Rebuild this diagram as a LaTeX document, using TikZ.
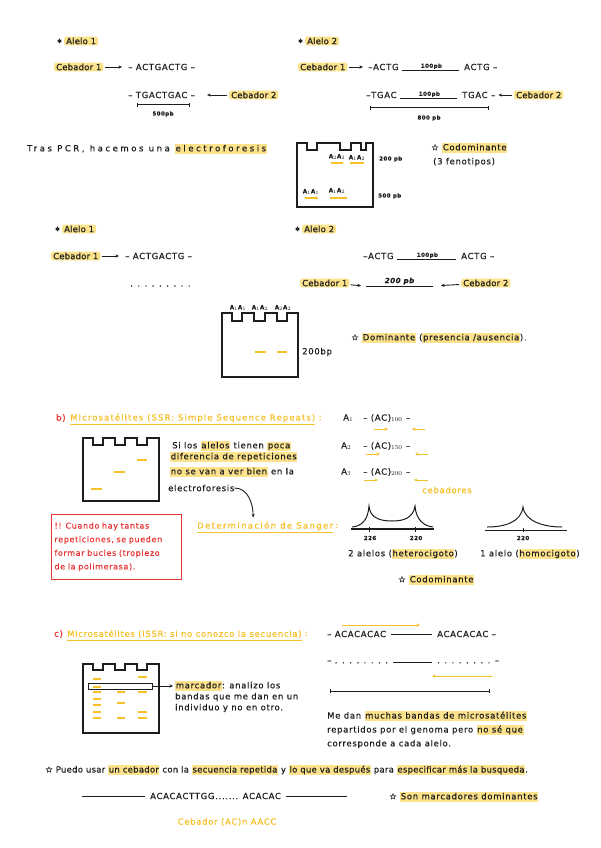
\documentclass[tikz,border=0pt]{standalone}
\usepackage{fontspec}
\setmainfont{DejaVu Sans}[LetterSpace=8, FakeBold=0.4]
\usetikzlibrary{arrows.meta}
\definecolor{ink}{RGB}{30,30,30}
\definecolor{marker}{RGB}{253,226,140}
\definecolor{yink}{RGB}{246,192,40}
\definecolor{rink}{RGB}{232,52,52}
\newcommand\notesize{\fontsize{8.5}{10}\selectfont}
\newcommand\tinysize{\fontsize{5.5}{6}\selectfont}
\newcommand\spaced[1]{\addfontfeatures{LetterSpace=#1}}
\newcommand\hlite[1]{{\setlength{\fboxsep}{0.6pt}\colorbox{marker}{\rule[-1.8pt]{0pt}{8pt}#1}}}

\begin{document}
\begin{tikzpicture}[x=1pt, y=-1pt, font=\notesize, ink,
  txt/.style={anchor=west, inner sep=0pt},
  lbl/.style={inner sep=0pt, font=\tinysize\bfseries},
  hl/.style={anchor=west, fill=marker, rounded corners=2pt, inner xsep=2pt, inner ysep=1pt,
    font=\notesize\spaced{2}},
  arr/.style={-{Stealth[length=3.5pt, width=3.2pt]}, line width=0.9pt},
  yarr/.style={arr, yink},
  gel/.style={draw=ink, line width=1.3pt},
  band/.style={yink, line width=1.2pt},
  bar/.style={{Bar[width=4pt]}-{Bar[width=4pt]}, line width=1pt},
  rule/.style={line width=1pt},
  ]
\fill[white] (0,0) rectangle (600,848);
\useasboundingbox (0,0) rectangle (600,848);

% PCR, alelo 1
\node[txt] (st1) at (57,41) {\tinysize ✱};
\node[hl] (al1) at (64,41) {Alelo 1};
\node[hl] (ceb1a) at (54,67) {Cebador 1};
\node[txt] (seq1a) at (128,67) {– ACTGACTG –};
\draw[arr, shorten <=1pt, shorten >=6pt] (ceb1a) -- (seq1a);
\node[txt] (seq1b) at (128,95) {– TGACTGAC –};
\node[hl] (ceb2a) at (229,95) {Cebador 2};
\draw[arr, shorten <=2pt, shorten >=12pt] (ceb2a) -- (seq1b);
\coordinate (b1l) at (137,105);
\coordinate (b1r) at (190,105);
\draw[bar] (b1l) -- (b1r);
\node[lbl] (pb500) at (163,114) {500pb};

% PCR, alelo 2
\node[txt] (st2) at (298,41) {\tinysize ✱};
\node[hl] (al2) at (305,41) {Alelo 2};
\node[hl] (ceb1b) at (298,67) {Cebador 1};
\node[txt] (seq2a) at (368,67) {–ACTG};
\node[txt] (seq2b) at (464,67) {ACTG –};
\draw[arr, shorten <=1pt, shorten >=5pt] (ceb1b) -- (seq2a);
\draw[rule, shorten <=3pt, shorten >=5pt] (seq2a.south east) -- (seq2b.south west)
  node[midway, above=1pt, lbl] {100pb};
\node[txt] (seq2c) at (366,95) {–TGAC};
\node[txt] (seq2d) at (462,95) {TGAC –};
\draw[rule, shorten <=3pt, shorten >=5pt] (seq2c.south east) -- (seq2d.south west)
  node[midway, above=1pt, lbl] {100pb};
\node[hl] (ceb2b) at (514,95) {Cebador 2};
\draw[arr, shorten <=2pt, shorten >=3pt] (ceb2b) -- (seq2d);
\coordinate (b2l) at (370,108);
\coordinate (b2r) at (489,108);
\draw[bar] (b2l) -- (b2r);
\node[lbl] (pb800) at (429,118) {800 pb};

% electroforesis 1
\node[txt] (pcr) at (27,149) {\spaced{30}Tras PCR, hacemos una \hlite{electroforesis}};
\draw[gel] (297,207) -- (297,143) -- (307,143) -- (307,150) -- (317,150) -- (317,143)
  -- (340,143) -- (340,150) -- (351,150) -- (351,143) -- (361,143) -- (361,150)
  -- (366,150) -- (366,143) -- (373,143) -- (373,207) -- cycle;
\node[lbl] (g1a) at (337,157) {A$_2$A$_2$};
\node[lbl] (g1b) at (357,158) {A$_1$A$_2$};
\node[lbl] (g1c) at (311,192) {A$_1$A$_1$};
\node[lbl] (g1d) at (337,191) {A$_1$A$_2$};
\draw[band] (331,163) -- (343,163);
\draw[band] (350,163) -- (364,163);
\draw[band] (305,198) -- (318,198);
\draw[band] (330,198) -- (347,198);
\node[txt] (pb200a) at (379,159) {\tinysize\bfseries 200 pb};
\node[txt] (pb500a) at (378,196) {\tinysize\bfseries 500 pb};
\node[txt] (codom1) at (431,148) {☆ \hlite{Codominante}};
\node[txt] (fenot) at (433,162) {(3 fenotipos)};

% dominante, alelo 1
\node[txt] (st3) at (55,229) {\tinysize ✱};
\node[hl] (al3) at (62,229) {Alelo 1};
\node[hl] (ceb1c) at (51,256) {Cebador 1};
\node[txt] (seq3a) at (125,256) {– ACTGACTG –};
\draw[arr, shorten <=1pt, shorten >=6pt] (ceb1c) -- (seq3a);
\node[txt] (dots3) at (130,286) {. . . . . . . . .};

% dominante, alelo 2
\node[txt] (st4) at (295,229) {\tinysize ✱};
\node[hl] (al4) at (302,229) {Alelo 2};
\node[txt] (seq4a) at (363,256) {–ACTG};
\node[txt] (seq4b) at (461,256) {ACTG –};
\draw[rule, shorten <=3pt, shorten >=5pt] (seq4a.south east) -- (seq4b.south west)
  node[midway, above=1pt, lbl] {100pb};
\node[hl] (ceb1d) at (300,283) {Cebador 1};
\node[hl] (ceb2d) at (461,283) {Cebador 2};
\coordinate (l200a) at (366,286);
\coordinate (l200b) at (433,286);
\draw[rule] (l200a) -- (l200b) node[midway, above=1pt, inner sep=0pt, font=\fontsize{7}{8}\selectfont\bfseries\itshape] {200 pb};
\draw[arr, shorten <=1pt, shorten >=5pt] (ceb1d) -- (l200a);
\draw[arr, shorten <=2pt, shorten >=8pt] (ceb2d) -- (l200b);

% electroforesis 2
\draw[gel] (222,377) -- (222,313) -- (232,313) -- (232,321) -- (242,321) -- (242,313)
  -- (254,313) -- (254,321) -- (265,321) -- (265,313) -- (277,313) -- (277,321)
  -- (287,321) -- (287,313) -- (298,313) -- (298,377) -- cycle;
\node[lbl] (g2a) at (238,308) {A$_1$A$_1$};
\node[lbl] (g2b) at (260,308) {A$_1$A$_2$};
\node[lbl] (g2c) at (283,308) {A$_2$A$_2$};
\draw[band] (255,352) -- (266,352);
\draw[band] (277,352) -- (287,352);
\node[txt] (bp200) at (302,352) {200bp};
\node[txt] (domin) at (351,338) {☆ \hlite{Dominante} (\hlite{presencia /ausencia}).};

% b) SSR
\node[txt, rink] (bb) at (56,418) {b)};
\node[txt, yink] (ssr) at (70,418) {\spaced{13}Microsatélites (SSR: Simple Sequence Repeats)};
\node[txt, yink] (ssrc) at ([xshift=3pt]ssr.east) {:};
\draw[yink, line width=0.9pt] ([yshift=-2pt]ssr.south west) -- ([yshift=-2pt]ssr.south east);
\draw[gel] (83,501) -- (83,438) -- (93,438) -- (93,445) -- (103,445) -- (103,438)
  -- (115,438) -- (115,445) -- (125,445) -- (125,438) -- (137,438) -- (137,445)
  -- (147,445) -- (147,438) -- (159,438) -- (159,501) -- cycle;
\draw[band] (137,460) -- (147,460);
\draw[band] (114,472) -- (125,472);
\draw[band] (91,489) -- (102,489);
\node[txt] (si1) at (172,446) {Si los \hlite{alelos} tienen \hlite{poca}};
\node[txt] (si2) at (170,457) {\hlite{diferencia de repeticiones}};
\node[txt] (si3) at (170,472) {\hlite{no se van a ver bien} en la};
\node[txt] (si4) at (168,488) {electroforesis};
\node[txt] (a1) at (343,418) {A$_1$};
\node[txt] (ac1) at (363,418) {– (AC)$_{100}$ –};
\node[txt] (a2) at (341,446) {A$_2$};
\node[txt] (ac2) at (363,446) {– (AC)$_{150}$ –};
\node[txt] (a3) at (341,472) {A$_3$};
\node[txt] (ac3) at (363,472) {– (AC)$_{200}$ –};
\draw[yarr] (374,429) -- (388,429);
\draw[yarr] (425,429) -- (412,429);
\draw[yarr] (366,454) -- (380,454);
\draw[yarr] (428,454) -- (415,454);
\draw[yarr] (364,480) -- (378,480);
\draw[yarr] (428,480) -- (414,480);
\node[yink, inner sep=0pt] (cebs) at (447,490) {cebadores};

\node[draw=rink, line width=1pt, rink, text width=124pt, align=left, inner xsep=3pt,
  inner ysep=8pt, font=\fontsize{8}{13.6}\selectfont, anchor=north west] (warn) at (51,514)
  {!! Cuando hay tantas\\ repeticiones, se pueden\\ formar bucles (tropiezo\\ de la polimerasa).};

\node[txt, yink] (sanger) at (197,526) {\spaced{16}Determinación de Sanger};
\node[txt, yink] (sangc) at ([xshift=2pt]sanger.east) {:};
\draw[yink, line width=0.9pt] ([yshift=-2pt]sanger.south west) -- ([yshift=-2pt]sanger.south east);
\draw[arr] (si4.east) to[out=0, in=90] ([xshift=-12pt, yshift=4pt]sanger.north);

% picos
\draw[line width=1.2pt] (351,529) -- (434,529);
\draw[line width=1pt] (352,527) .. controls (362,526) and (368,520) .. (369,506)
  .. controls (370,518) and (380,521) .. (392,521)
  .. controls (404,521) and (413,518) .. (415,506)
  .. controls (416,520) and (424,526) .. (433,527);
\draw[line width=1pt] (369,527) -- (369,532);
\draw[line width=1pt] (415,527) -- (415,532);
\node[lbl] (p226) at (370,538) {226};
\node[lbl] (p220) at (416,538) {220};
\draw[line width=0.7pt] (485,530) -- (567,530);
\draw[line width=1pt] (487,527) .. controls (505,527) and (521,522) .. (523,507)
  .. controls (525,522) and (545,527) .. (562,527);
\draw[line width=1pt] (523,528) -- (523,532);
\node[lbl] (p220b) at (523,538) {220};
\node[txt] (hetero) at (348,554) {2 alelos (\hlite{heterocigoto})};
\node[txt] (homo) at (480,554) {1 alelo (\hlite{homocigoto})};
\node[txt] (codom2) at (398,580) {☆ \hlite{Codominante}};

% c) ISSR
\node[txt, rink] (cc) at (54,634) {c)};
\node[txt, yink] (issr) at (67,634) {Microsatélites (ISSR: si no conozco la secuencia)};
\node[txt, yink] (issrc) at ([xshift=3pt]issr.east) {:};
\draw[yink, line width=0.9pt] ([yshift=-2pt]issr.south west) -- ([yshift=-2pt]issr.south east);
\draw[gel] (83,733) -- (83,664) -- (93,664) -- (93,670) -- (103,670) -- (103,664)
  -- (115,664) -- (115,670) -- (125,670) -- (125,664) -- (137,664) -- (137,670)
  -- (147,670) -- (147,664) -- (159,664) -- (159,733) -- cycle;
\draw[band] (93,679) -- (101,679);
\draw[band] (93,687) -- (101,687);
\draw[band] (93,692) -- (101,692);
\draw[band] (93,699) -- (101,699);
\draw[band] (93,705) -- (101,705);
\draw[band] (93,712) -- (101,712);
\draw[band] (93,718) -- (101,718);
\draw[band] (117,692) -- (125,692);
\draw[band] (117,703) -- (125,703);
\draw[band] (117,718) -- (125,718);
\draw[band] (138,677) -- (147,677);
\draw[band] (138,692) -- (147,692);
\draw[band] (138,712) -- (147,712);
\draw[band] (138,718) -- (147,718);
\node[draw, line width=0.8pt, minimum width=64pt, minimum height=6pt, inner sep=0pt] (mbox) at (120,686) {};
\node[txt] (marc) at (175,686) {\hlite{marcador}: analizo los};
\draw[arr, shorten >=2pt] (mbox.east) -- (marc.west);
\node[txt] (marc2) at (175,697) {bandas que me dan en un};
\node[txt] (marc3) at (175,708) {individuo y no en otro.};

\node[txt] (acr1) at (327,634) {– ACACACAC};
\node[txt] (acr2) at (437,634) {ACACACAC –};
\draw[rule, shorten <=5pt, shorten >=5pt] (acr1.east) -- (acr2.west);
\node[txt] (dtr1) at (327,662) {– . . . . . . . .};
\node[txt] (dtr2) at (437,662) {. . . . . . . . –};
\draw[rule, shorten <=5pt, shorten >=5pt] (dtr1.east) -- (dtr2.west);
\draw[yarr] (342,625) -- (420,625);
\draw[yarr] (492,676) -- (432,676);
\coordinate (b3l) at (330,691);
\coordinate (b3r) at (490,691);
\draw[bar] (b3l) -- (b3r);
\node[txt] (me1) at (327,716) {Me dan \hlite{muchas bandas de microsatélites}};
\node[txt] (me2) at (327,730) {repartidos por el genoma pero \hlite{no sé que}};
\node[txt] (me3) at (327,744) {corresponde a cada alelo.};

\node[txt] (puedo) at (45,770) {\spaced{3}☆ Puedo usar \hlite{un cebador} con la \hlite{secuencia repetida} y \hlite{lo que va después} para \hlite{especificar más la busqueda}.};
\node[txt] (seqc) at (150,796) {ACACACTTGG....... ACACAC};
\coordinate (lc1) at (82,796);
\coordinate (lc2) at (347,796);
\draw[rule] (lc1) -- ([xshift=-5pt]seqc.west);
\draw[rule] ([xshift=5pt]seqc.east) -- (lc2);
\node[txt] (sonm) at (389,797) {☆ \hlite{Son marcadores dominantes}};
\node[yink, inner sep=0pt] (cebac) at (227,822) {Cebador (AC)n AACC};
\end{tikzpicture}
\end{document}
